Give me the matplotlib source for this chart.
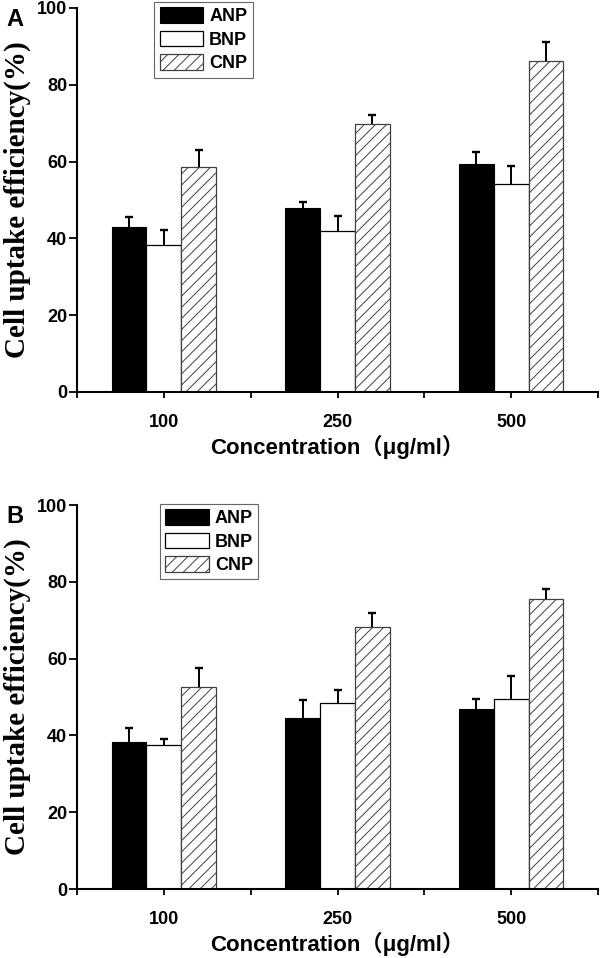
import matplotlib
matplotlib.use("Agg")
import matplotlib.pyplot as plt
import numpy as np

# concentrations (ug/ml)
conc_labels = ["100", "250", "500"]
groups = ["ANP", "BNP", "CNP"]

# panel A
a_anp = [42.9, 47.9, 59.4]
a_bnp = [38.4, 41.9, 54.2]
a_cnp = [58.5, 69.8, 86.1]
a_anp_err = [2.8, 1.5, 3.2]
a_bnp_err = [3.7, 3.9, 4.6]
a_cnp_err = [4.4, 2.4, 5.1]

# panel B
b_anp = [38.3, 44.5, 47.0]
b_bnp = [37.5, 48.4, 49.5]
b_cnp = [52.5, 68.3, 75.6]
b_anp_err = [3.6, 4.6, 2.5]
b_bnp_err = [1.6, 3.4, 6.0]
b_cnp_err = [5.1, 3.6, 2.6]

plt.rcParams["hatch.linewidth"] = 0.7
SANS = ["Liberation Sans", "Noto Sans CJK SC", "DejaVu Sans"]

fig = plt.figure(figsize=(6.0, 9.58), dpi=100)


def panel(rect, letter, anp, bnp, cnp, anp_err, bnp_err, cnp_err, leg_x, leg_y):
    ax = fig.add_axes(rect)
    x = np.arange(1, len(conc_labels) + 1)
    w = 0.2
    err_kw = dict(ecolor="black", elinewidth=1.4, capsize=3.2, capthick=1.7)
    b1 = ax.bar(x - w, anp, w, yerr=[np.zeros(3), anp_err], color="black",
                edgecolor="black", linewidth=0.8, label=groups[0], error_kw=err_kw)
    b2 = ax.bar(x, bnp, w, yerr=[np.zeros(3), bnp_err], color="white",
                edgecolor="black", linewidth=0.9, label=groups[1], error_kw=err_kw)
    b3 = ax.bar(x + w, cnp, w, yerr=[np.zeros(3), cnp_err], color="white",
                edgecolor="0.25", linewidth=0.9, hatch="///", label=groups[2],
                error_kw=err_kw)
    # only the upper cap is shown
    for b in (b1, b2, b3):
        b.errorbar.lines[1][0].set_visible(False)

    ax.set_xlim(0.5, 3.5)
    ax.set_ylim(0, 100)
    ax.set_xticks(x)
    ax.set_xticklabels(conc_labels)
    ax.set_xticks([0.5, 1.5, 2.5, 3.5], minor=True)
    ax.set_yticks([0, 20, 40, 60, 80, 100])
    for s in ["top", "right"]:
        ax.spines[s].set_visible(False)
    for s in ["left", "bottom"]:
        ax.spines[s].set_linewidth(1.5)
    ax.tick_params(axis="y", direction="out", length=6, width=1.3, pad=1,
                   labelsize=13)
    ax.tick_params(axis="x", which="both", direction="out", length=4.5,
                   width=1.3, pad=11, labelsize=13)
    for lab in ax.get_xticklabels() + ax.get_yticklabels():
        lab.set_fontweight("bold")
        lab.set_family(SANS)

    ax.set_xlabel("Concentration（μg/ml）", fontsize=16, fontweight="bold",
                  family=SANS, labelpad=3)
    ax.set_ylabel("Cell uptake efficiency(%)", fontsize=21, fontweight="bold",
                  family="Liberation Serif")
    ax.yaxis.set_label_coords(-0.088, 0.5)

    leg = ax.legend(loc="upper left", bbox_to_anchor=(leg_x, leg_y),
                    prop=dict(family=SANS, weight="bold", size=13),
                    handlelength=2.4, handleheight=0.95, labelspacing=0.3,
                    handletextpad=0.35, borderpad=0.3, borderaxespad=0,
                    fancybox=False, framealpha=1)
    leg.get_frame().set_edgecolor("0.4")
    leg.get_frame().set_linewidth(0.8)

    fig.text(rect[0] - 0.117, rect[1] + rect[3] + 0.0, letter, fontsize=17,
             fontweight="bold", family=SANS, va="top", ha="left")
    return ax


h = 384 / 958
panel([77 / 600, (958 - 392) / 958, 521 / 600, h], "A",
      a_anp, a_bnp, a_cnp, a_anp_err, a_bnp_err, a_cnp_err, 0.148, 1.016)
panel([77 / 600, (958 - 889) / 958, 521 / 600, h], "B",
      b_anp, b_bnp, b_cnp, b_anp_err, b_bnp_err, b_cnp_err, 0.159, 1.003)

fig.savefig("out.png", dpi=100)
